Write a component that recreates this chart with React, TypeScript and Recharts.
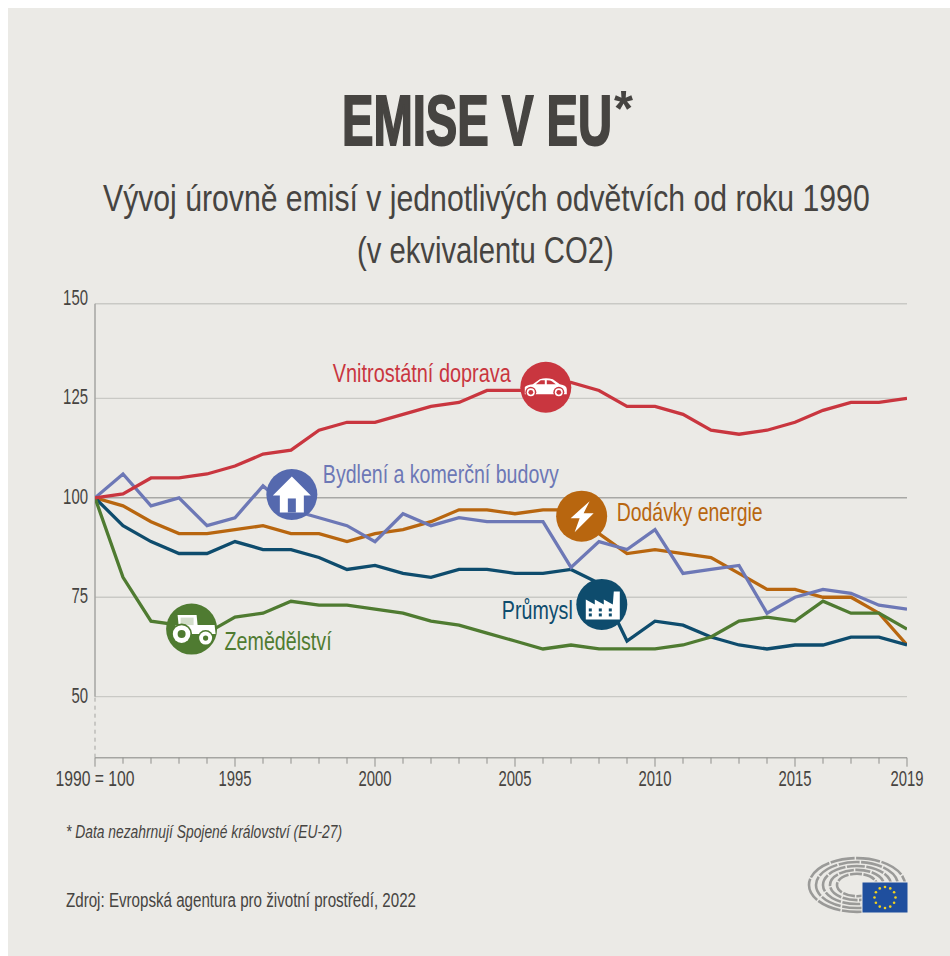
import React from 'react';
import { LineChart, Line, XAxis, YAxis, ReferenceLine, ReferenceDot } from 'recharts';

// Annual emission index by sector, 1990 = 100
const years = [1990,1991,1992,1993,1994,1995,1996,1997,1998,1999,2000,2001,2002,2003,2004,2005,2006,2007,2008,2009,2010,2011,2012,2013,2014,2015,2016,2017,2018,2019];
const transport = [100,101,105,105,106,108,111,112,117,119,119,121,123,124,127,127,127,129,127,123,123,121,117,116,117,119,122,124,124,125];
const buildings = [100,106,98,100,93,95,103,97,95,93,89,96,93,95,94,94,94,82.5,89,87,92,81,82,83,71,75,77,76,73,72];
const energy = [100,98,94,91,91,92,93,91,91,89,91,92,94,97,97,96,97,97,91,86,87,86,85,81,77,77,75,75,71,63];
const industry = [100,93,89,86,86,89,87,87,85,82,83,81,80,82,82,81,81,82,78.5,64,69,68,65,63,62,63,63,65,65,63];
const agriculture = [100,80,69,68,66,70,71,74,73,73,72,71,69,68,66,64,62,63,62,62,62,63,65,69,70,69,74,71,71,67];

const yTicks = [50, 75, 100, 125, 150];
const xLabels: Record<number, string> = { 1990: '1990 = 100', 1995: '1995', 2000: '2000', 2005: '2005', 2010: '2010', 2015: '2015', 2019: '2019' };

const rows = years.map((year, i) => ({
  year,
  transport: transport[i],
  buildings: buildings[i],
  energy: energy[i],
  industry: industry[i],
  agriculture: agriculture[i],
}));

const FONT = '"Liberation Sans", sans-serif';
const INK = '#464441';
const GRID = '#c9c9c5';
const BG = '#ebeae6';
const RED = '#c9363f';
const BLUE = '#6d78b6';
const BLUE_DARK = '#5569ae';
const ORANGE = '#b8660f';
const TEAL = '#0e4c6d';
const GREEN = '#4f7b31';

const Y_MIN = 34.66;
const TOP_RULE = 148.8;

type IconProps = { fill: string };

const HouseIcon = ({ fill }: IconProps) => (
  <g>
    <path d="M0,-18 L19,1 L12,1 L12,18 L-12,18 L-12,1 L-19,1 Z" fill="#fff" />
    <rect x={-4} y={4} width={8} height={14} fill={fill} />
  </g>
);

const BoltIcon = () => <path d="M8,-15 L-11,2 L-2,2 L-7,16 L12,-3 L2,-3 Z" fill="#fff" />;

const CarIcon = ({ fill }: IconProps) => (
  <g>
    <path d="M-21,7 L-21,0 Q-20,-2 -13,-3 L-6,-8 Q0,-10 7,-8 L14,-3 Q21,-2 21,2 L21,7 Z" fill="#fff" />
    <path d="M-10,-3 L-5,-7 L-1,-7 L-1,-3 Z M1,-7 Q5,-7 6,-6 L10,-3 L1,-3 Z" fill={fill} />
    <circle cx={-15} cy={5} r={5.5} fill={fill} />
    <circle cx={-15} cy={5} r={4} fill="#fff" />
    <circle cx={-15} cy={5} r={2.4} fill={fill} />
    <circle cx={13} cy={5} r={5.5} fill={fill} />
    <circle cx={13} cy={5} r={4} fill="#fff" />
    <circle cx={13} cy={5} r={2.4} fill={fill} />
  </g>
);

const FactoryIcon = ({ fill }: IconProps) => (
  <g>
    <path d="M-16,15 L-16,-5 L-7,0 L-7,-5 L2,0 L2,-5 L11,0 L12,-13 L18,-13 L18,15 Z" fill="#fff" />
    {[-13, -3, 7].flatMap((x) => [4, 9].map((y) => (
      <rect key={`${x}-${y}`} x={x} y={y} width={3} height={3} fill={fill} />
    )))}
  </g>
);

const TractorIcon = ({ fill }: IconProps) => (
  <g>
    <path d="M-14,-14 L5,-14 L6,-4 L23,-4 L24,5 L-16,5 L-16,-4 L-13,-4 Z" fill="#fff" />
    <rect x={-11} y={-11.5} width={13} height={7.5} fill={fill} opacity={0.25} />
    <circle cx={-10} cy={5} r={10.5} fill={fill} />
    <circle cx={-10} cy={5} r={8.8} fill="#fff" />
    <circle cx={-10} cy={5} r={4} fill={fill} />
    <circle cx={14} cy={9} r={8} fill={fill} />
    <circle cx={14} cy={9} r={6.5} fill="#fff" />
    <circle cx={14} cy={9} r={2.6} fill={fill} />
  </g>
);

type BadgeSpec = {
  fill: string;
  icon: React.ReactNode;
  label: string;
  labelFill: string;
  dx: number;
  dy: number;
  len: number;
};

const makeBadge = ({ fill, icon, label, labelFill, dx, dy, len }: BadgeSpec) => (props: any) => (
  <g>
    <circle cx={props.cx} cy={props.cy} r={25.5} fill={fill} />
    <g transform={`translate(${props.cx},${props.cy})`}>{icon}</g>
    <text
      x={props.cx + dx}
      y={props.cy + dy}
      fontFamily={FONT}
      fontSize={26}
      fill={labelFill}
      textLength={len}
      lengthAdjust="spacingAndGlyphs"
    >
      {label}
    </text>
  </g>
);

const carBadge = makeBadge({ fill: RED, icon: <CarIcon fill={RED} />, label: 'Vnitrostátní doprava', labelFill: RED, dx: -213, dy: -5, len: 178 });
const houseBadge = makeBadge({ fill: BLUE_DARK, icon: <HouseIcon fill={BLUE_DARK} />, label: 'Bydlení a komerční budovy', labelFill: BLUE, dx: 31, dy: -11, len: 236 });
const boltBadge = makeBadge({ fill: ORANGE, icon: <BoltIcon />, label: 'Dodávky energie', labelFill: ORANGE, dx: 35, dy: 5, len: 146 });
const factoryBadge = makeBadge({ fill: TEAL, icon: <FactoryIcon fill={TEAL} />, label: 'Průmysl', labelFill: TEAL, dx: -100, dy: 15, len: 71 });
const tractorBadge = makeBadge({ fill: GREEN, icon: <TractorIcon fill={GREEN} />, label: 'Zemědělství', labelFill: GREEN, dx: 33, dy: 21, len: 107 });

const XTick = (props: any) => {
  const { x, y, payload } = props;
  const text = xLabels[payload.value];
  return (
    <g>
      <line x1={x} x2={x} y1={y - 8} y2={text ? y + 1 : y - 2} stroke="#8f8f8c" strokeWidth={1} />
      {text ? (
        <text
          x={x}
          y={y + 20}
          textAnchor="middle"
          fontFamily={FONT}
          fontSize={22}
          fill={INK}
          textLength={text.length > 4 ? 79 : 33}
          lengthAdjust="spacingAndGlyphs"
        >
          {text}
        </text>
      ) : null}
    </g>
  );
};

const YTick = (props: any) => {
  const { y, payload } = props;
  const text = String(payload.value);
  return (
    <text
      x={80}
      y={y + 6}
      textAnchor="end"
      fontFamily={FONT}
      fontSize={22}
      fill={INK}
      textLength={text.length * 8.3}
      lengthAdjust="spacingAndGlyphs"
    >
      {text}
    </text>
  );
};

// Parliament hemicycle with the EU flag
const Logo = () => {
  const rings = [48, 41, 34, 27, 20];
  const stars = Array.from({ length: 12 }, (_, i) => (i * Math.PI) / 6);
  return (
    <g>
      {rings.map((r, i) => (
        <ellipse
          key={r}
          cx={857}
          cy={885}
          rx={r}
          ry={r * 0.56}
          fill="none"
          stroke="#9a9a98"
          strokeWidth={2.6}
          strokeDasharray={`${24 - i * 3} 1.5`}
        />
      ))}
      <rect x={862} y={882} width={46} height={31} fill="#1f4f9e" stroke={BG} strokeWidth={1} />
      {stars.map((a, i) => (
        <circle key={i} cx={885 + 10.5 * Math.cos(a)} cy={897.5 + 10.5 * Math.sin(a)} r={1.3} fill="#f2d21e" />
      ))}
    </g>
  );
};

export default function App() {
  return (
    <div style={{ position: 'absolute', left: 8, top: 8, width: 942, height: 948, background: BG, overflow: 'hidden' }}>
      <svg width={942} height={948} style={{ position: 'absolute', left: 0, top: 0 }}>
        <g transform="translate(-8,-8)">
          <g transform="translate(342,145) scale(0.67,1)">
            <text x={0} y={0} fontFamily={FONT} fontWeight={700} fontSize={70} fill={INK} stroke={INK} strokeWidth={2} textLength={403} lengthAdjust="spacingAndGlyphs">
              EMISE V EU
            </text>
          </g>
          <text x={614} y={126} fontFamily={FONT} fontWeight={700} fontSize={50} fill={INK} textLength={19} lengthAdjust="spacingAndGlyphs">
            *
          </text>
          <g transform="translate(103,211) scale(0.82,1)">
            <text x={0} y={0} fontFamily={FONT} fontSize={37} fill={INK} textLength={935} lengthAdjust="spacingAndGlyphs">
              Vývoj úrovně emisí v jednotlivých odvětvích od roku 1990
            </text>
          </g>
          <g transform="translate(357,263) scale(0.82,1)">
            <text x={0} y={0} fontFamily={FONT} fontSize={37} fill={INK} textLength={313} lengthAdjust="spacingAndGlyphs">
              (v ekvivalentu CO2)
            </text>
          </g>
          <text x={66} y={838} fontFamily={FONT} fontStyle="italic" fontSize={18.5} fill={INK} textLength={276} lengthAdjust="spacingAndGlyphs">
            * Data nezahrnují Spojené království (EU-27)
          </text>
          <text x={66} y={907} fontFamily={FONT} fontSize={19.5} fill={INK} textLength={350} lengthAdjust="spacingAndGlyphs">
            Zdroj: Evropská agentura pro životní prostředí, 2022
          </text>
          <Logo />
        </g>
      </svg>
      <div style={{ position: 'absolute', left: 0, top: 0 }}>
        <LineChart width={942} height={800} data={rows} margin={{ top: 291, right: 43, bottom: 0.3, left: 47 }}>
          <XAxis
            dataKey="year"
            type="number"
            domain={[1990, 2019]}
            ticks={years}
            interval={0}
            tick={<XTick />}
            tickLine={false}
            axisLine={{ stroke: '#a5a5a2', strokeWidth: 1.5 }}
            height={50}
            allowDataOverflow
          />
          <YAxis
            type="number"
            domain={[Y_MIN, 150]}
            ticks={yTicks}
            width={40}
            tickLine={false}
            axisLine={false}
            tick={<YTick />}
            allowDataOverflow
          />
          {[75, 125, 50].map((v) => (
            <ReferenceLine key={v} y={v} stroke={GRID} strokeWidth={1.3} />
          ))}
          <ReferenceLine y={TOP_RULE} stroke={GRID} strokeWidth={1.3} />
          <ReferenceLine y={100} stroke="#a8a8a5" strokeWidth={1.5} />
          <ReferenceLine segment={[{ x: 1990, y: 50 }, { x: 1990, y: TOP_RULE }]} stroke="#a5a5a2" strokeWidth={1.5} />
          <ReferenceLine segment={[{ x: 1990, y: Y_MIN }, { x: 1990, y: 50 }]} stroke="#a5a5a2" strokeWidth={1} strokeDasharray="4 4" />
          <Line dataKey="energy" stroke={ORANGE} strokeWidth={3.3} dot={false} isAnimationActive={false} />
          <Line dataKey="industry" stroke={TEAL} strokeWidth={3.3} dot={false} isAnimationActive={false} />
          <Line dataKey="buildings" stroke={BLUE} strokeWidth={3.3} dot={false} isAnimationActive={false} />
          <Line dataKey="agriculture" stroke={GREEN} strokeWidth={3.3} dot={false} isAnimationActive={false} />
          <Line dataKey="transport" stroke={RED} strokeWidth={3.3} dot={false} isAnimationActive={false} />
          <ReferenceDot x={2006.1} y={127.8} ifOverflow="visible" shape={carBadge} />
          <ReferenceDot x={1997.03} y={100.85} ifOverflow="visible" shape={houseBadge} />
          <ReferenceDot x={2007.38} y={95.4} ifOverflow="visible" shape={boltBadge} />
          <ReferenceDot x={2008.1} y={73.2} ifOverflow="visible" shape={factoryBadge} />
          <ReferenceDot x={1993.45} y={67} ifOverflow="visible" shape={tractorBadge} />
        </LineChart>
      </div>
    </div>
  );
}
